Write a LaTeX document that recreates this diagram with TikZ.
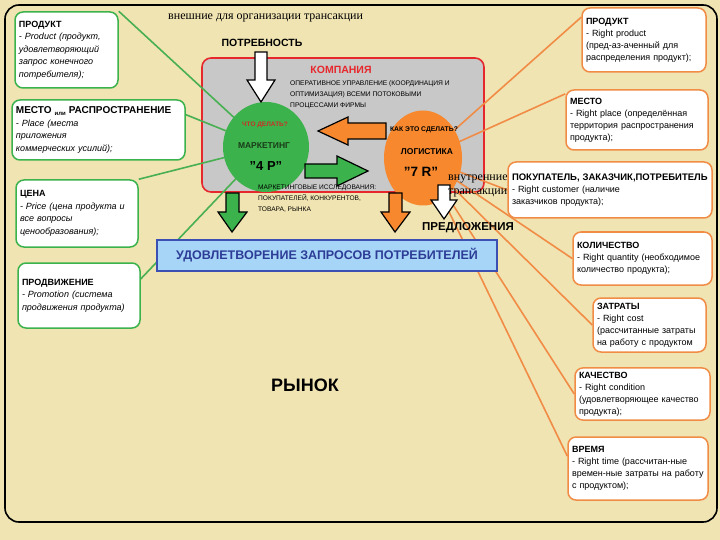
\documentclass[tikz,border=0pt]{standalone}
\usepackage{fontspec}
\setmainfont{Liberation Sans}
\newfontfamily\timesfont{Liberation Serif}
\usetikzlibrary{shapes.geometric}
\definecolor{bg}{RGB}{240,228,178}
\definecolor{firmgray}{RGB}{200,200,200}
\definecolor{firmred}{RGB}{230,40,45}
\definecolor{grn}{RGB}{60,178,76}
\definecolor{grnline}{RGB}{72,176,82}
\definecolor{org}{RGB}{247,136,45}
\definecolor{orgline}{RGB}{240,140,70}
\definecolor{skyblue}{RGB}{166,213,247}
\definecolor{navy}{RGB}{60,80,180}
\definecolor{navytext}{RGB}{45,60,150}
\definecolor{darkgrn}{RGB}{25,60,25}
\definecolor{askred}{RGB}{200,50,40}
\pgfdeclarelayer{back}
\pgfsetlayers{back,main}

\begin{document}
\begin{tikzpicture}[x=1pt,y=-1pt]
	\tikzstyle{lbox} = [draw=grn,line width=1.5pt,fill=white,rounded corners=8pt,align=left,inner sep=4pt,font=\fontsize{9}{12.5}\selectfont];
	\tikzstyle{rbox} = [draw=orgline,line width=1.5pt,fill=white,rounded corners=8pt,align=left,inner sep=4pt,font=\fontsize{9}{12}\selectfont];
	\tikzstyle{gl} = [draw=grnline,line width=1.6pt];
	\tikzstyle{ol} = [draw=orgline,line width=1.6pt];
	\tikzstyle{ar} = [draw=black,line width=1.2pt,line join=miter];
	\tikzstyle{small} = [inner sep=0pt,align=left,font=\fontsize{6.7}{11}\selectfont];
	\useasboundingbox (0,0) rectangle (720,540);
	\begin{pgfonlayer}{back}
		\fill [bg] (0,0) rectangle (720,540);
		\draw [line width=1.6pt,rounded corners=14pt] (5,5) rectangle (717,522);
		\draw [fill=firmgray,draw=firmred,line width=1.6pt,rounded corners=9pt] (202,58) rectangle (484,192);
	\end{pgfonlayer}
	\node (top) at (168,18) [anchor=west,inner sep=0pt,font=\timesfont\fontsize{12}{12}\selectfont] {внешние для организации трансакции};
	\node (firm) at (341,70) [inner sep=0pt,text=firmred,font=\fontsize{10.5}{10.5}\selectfont\bfseries] {КОМПАНИЯ};
	\node (ops) at (290,80) [anchor=north west,small] {ОПЕРАТИВНОЕ УПРАВЛЕНИЕ (КООРДИНАЦИЯ И\\ОПТИМИЗАЦИЯ) ВСЕМИ ПОТОКОВЫМИ\\ПРОЦЕССАМИ ФИРМЫ};
	\node (mk) at (266,147) [ellipse,fill=grn,minimum width=86pt,minimum height=90pt,inner sep=0pt] {};
	\node (lg) at (423,158) [ellipse,fill=org,minimum width=78pt,minimum height=95pt,inner sep=0pt] {};
	\node (need) at (262,43) [inner sep=0pt,font=\fontsize{10.5}{10.5}\selectfont\bfseries] {ПОТРЕБНОСТЬ};
	\draw [ar,fill=white] (255,52) -- (267,52) -- (267,80) -- (275,80) -- (261,102) -- (247,80) -- (255,80) -- cycle;
	\draw [ar,fill=org] (386,123) -- (348,123) -- (348,117) -- (318,131) -- (348,145) -- (348,139) -- (386,139) -- cycle;
	\draw [ar,fill=grn] (305,164) -- (337,164) -- (337,156) -- (368,171) -- (337,186) -- (337,178) -- (305,178) -- cycle;
	\node (what) at (265,125) [inner sep=0pt,text=askred,font=\fontsize{6.5}{6.5}\selectfont\bfseries] {ЧТО ДЕЛАТЬ?};
	\node (mkt) at (264,146) [inner sep=0pt,text=darkgrn,font=\fontsize{8.5}{8.5}\selectfont\bfseries] {МАРКЕТИНГ};
	\node (fourp) at (266,166) [inner sep=0pt,font=\fontsize{13}{13}\selectfont\bfseries] {"4 P"};
	\node (how) at (424,130) [inner sep=0pt,font=\fontsize{6.8}{6.8}\selectfont\bfseries] {КАК ЭТО СДЕЛАТЬ?};
	\node (log) at (427,152) [inner sep=0pt,font=\fontsize{8.5}{8.5}\selectfont\bfseries] {ЛОГИСТИКА};
	\node (sevenr) at (421,172) [inner sep=0pt,font=\fontsize{13.5}{13.5}\selectfont\bfseries] {"7 R"};
	\node (res) at (258,185) [anchor=north west,small,font=\fontsize{6.6}{11}\selectfont] {МАРКЕТИНГОВЫЕ ИССЛЕДОВАНИЯ:\\ПОКУПАТЕЛЕЙ, КОНКУРЕНТОВ,\\ТОВАРА, РЫНКА};
	\draw [ar,fill=grn] (226,193) -- (239,193) -- (239,212) -- (247,212) -- (232,232) -- (218,212) -- (226,212) -- cycle;
	\draw [ar,fill=org] (389,193) -- (402,193) -- (402,212) -- (410,212) -- (395,232) -- (381,212) -- (389,212) -- cycle;
	\draw [ar,fill=white] (438,185) -- (450,185) -- (450,200) -- (457,200) -- (444,219) -- (431,200) -- (438,200) -- cycle;
	\node (inner) at (448,186) [anchor=west,inner sep=0pt,align=left,font=\timesfont\fontsize{12}{14}\selectfont] {внутренние\\трансакции};
	\node (offer) at (468,228) [inner sep=0pt,font=\fontsize{11.5}{11.5}\selectfont\bfseries] {ПРЕДЛОЖЕНИЯ};
	\node (sat) at (327,255.5) [draw=navy,line width=2pt,fill=skyblue,minimum width=340pt,minimum height=31pt,text=navytext,font=\fontsize{12.5}{12.5}\selectfont\bfseries] {УДОВЛЕТВОРЕНИЕ ЗАПРОСОВ ПОТРЕБИТЕЛЕЙ};
	\node (market) at (305,385) [inner sep=0pt,font=\fontsize{18}{18}\selectfont\bfseries] {РЫНОК};
	\node (lp) at (66.5,50) [lbox,text width=95pt,minimum height=76pt] {\textbf{ПРОДУКТ}\\\itshape - Product (продукт,\\удовлетворяющий\\запрос конечного\\потребителя);};
	\node (lm) at (98.5,130) [lbox,text width=165pt,minimum height=60pt] {\textbf{\fontsize{10}{12.5}\selectfont МЕСТО {\fontsize{6}{6}\selectfont\raisebox{-1.5pt}{или}} РАСПРОСТРАНЕНИЕ}\\\itshape - Place (места\\приложения\\коммерческих усилий);};
	\node (lc) at (77,213.5) [lbox,text width=114pt,minimum height=67pt] {\textbf{ЦЕНА}\\\itshape - Price (цена продукта и\\все вопросы\\ценообразования);};
	\node (lpr) at (79,295.5) [lbox,text width=114pt,minimum height=65pt] {\textbf{ПРОДВИЖЕНИЕ}\\\itshape - Promotion (система\\продвижения продукта)};
	\node (rp) at (644,40) [rbox,text width=116pt,minimum height=64pt] {\textbf{ПРОДУКТ}\\- Right product\\(пред-аз-аченный для\\распределения продукт);};
	\node (rm) at (637,120) [rbox,text width=134pt,minimum height=60pt] {\textbf{МЕСТО}\\- Right place (определённая\\территория распространения\\продукта);};
	\node (rk) at (610,190) [rbox,text width=196pt,minimum height=56pt] {\textbf{\fontsize{9.5}{12}\selectfont ПОКУПАТЕЛЬ, ЗАКАЗЧИК,ПОТРЕБИТЕЛЬ}\\- Right customer (наличие\\заказчиков продукта);};
	\node (rq) at (642.5,258.5) [rbox,text width=131pt,minimum height=53pt] {\textbf{КОЛИЧЕСТВО}\\- Right quantity (необходимое\\количество продукта);};
	\node (rz) at (649.5,325) [rbox,text width=105pt,minimum height=54pt] {\textbf{ЗАТРАТЫ}\\- Right cost\\(рассчитанные затраты\\на работу с продуктом};
	\node (rv) at (642.5,394) [rbox,text width=127pt,minimum height=52pt] {\textbf{КАЧЕСТВО}\\- Right condition\\(удовлетворяющее качество\\продукта);};
	\node (rt) at (638,468.5) [rbox,text width=132pt,minimum height=63pt] {\textbf{ВРЕМЯ}\\- Right time (рассчитан-ные\\времен-ные затраты на работу\\с продуктом);};
	\begin{pgfonlayer}{back}
		\draw [gl] (mk.center) -- (lp.north east);
		\draw [gl] (mk.center) -- (lm.10);
		\draw [gl] (mk.center) -- (lc.north east);
		\draw [gl] (mk.center) -- (lpr.15);
		\draw [ol] (lg.center) -- (rp.160);
		\draw [ol] (lg.center) -- (rm.160);
		\draw [ol] (lg.center) -- (rk.west);
		\draw [ol] (lg.center) -- (rq.west);
		\draw [ol] (lg.center) -- (rz.west);
		\draw [ol] (lg.center) -- (rv.west);
		\draw [ol] (lg.center) -- (rt.170);
	\end{pgfonlayer}
\end{tikzpicture}
\end{document}
